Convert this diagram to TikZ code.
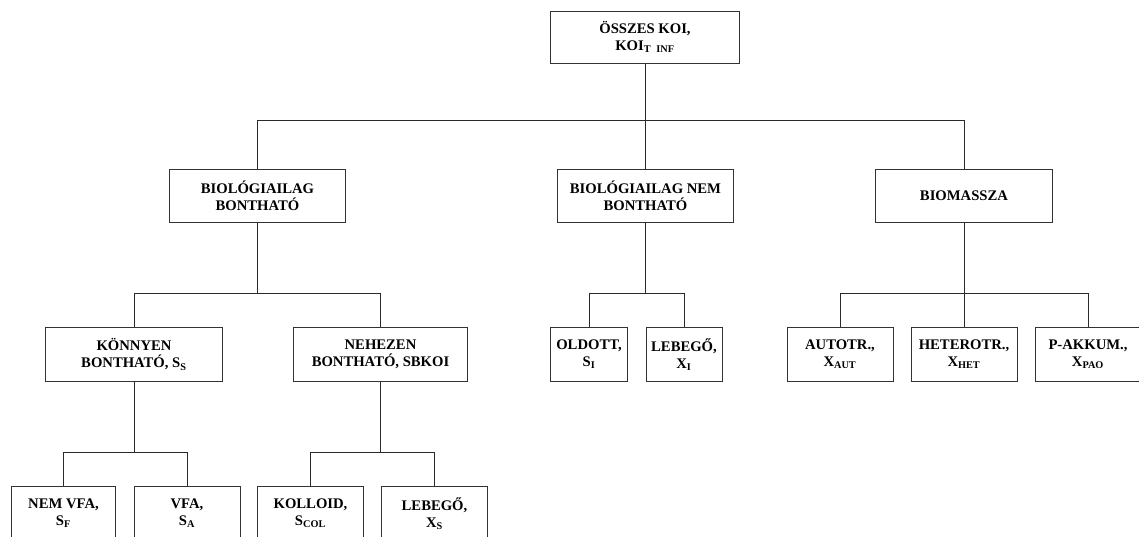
\documentclass[tikz,border=0pt]{standalone}
\usepackage{fontspec}
\setmainfont{Liberation Serif}
\usepackage{tikz}
\usetikzlibrary{positioning,calc}
\definecolor{cLine}{HTML}{2B2B2B}
\definecolor{cBox}{HTML}{333333}
\tikzset{
  koibox/.style ={draw=cBox, line width=0.75pt, fill=white, align=center,
                  font=\fontsize{11}{12.8}\selectfont\bfseries, inner sep=1pt,
                  minimum height=40pt},
  widebox/.style={koibox, minimum width=132.5pt},
  midbox/.style ={koibox, minimum width=79.5pt},
  thinbox/.style={koibox, minimum width=58pt},
  link/.style   ={draw=cLine, line width=0.75pt},
}

\begin{document}
\begin{tikzpicture}[x=0.75pt, y=-0.75pt]
        \clip (0,0) rectangle (1139,536);
        \useasboundingbox (0,0) rectangle (1139,536);
        % top level
        \node[koibox, minimum width=141.5pt, minimum height=39pt] (koi) at (645,37){ÖSSZES KOI,\\KOI\textsubscript{T\;\;INF}};
        % second level
        \node[widebox] (biob) at (257.5,196){BIOLÓGIAILAG\\BONTHATÓ};
        \node[widebox] (bionb) at (645.5,196){BIOLÓGIAILAG NEM\\BONTHATÓ};
        \node[widebox] (biom) at (964,196){BIOMASSZA};
        % third level
        \node[widebox] (konny) at (134,354.5){KÖNNYEN\\BONTHATÓ, S\textsubscript{S}};
        \node[widebox, minimum width=131pt] (nehez) at (380.5,354.5){NEHEZEN\\BONTHATÓ, SBKOI};
        \node[thinbox] (oldott) at (589,354.5){OLDOTT,\\S\textsubscript{I}};
        \node[thinbox, minimum width=57pt] (lebi) at (684,354.5){LEBEGŐ,\\X\textsubscript{I}};
        \node[midbox] (aut) at (840,354.5){AUTOTR.,\\X\textsubscript{AUT}};
        \node[midbox] (het) at (964,354.5){HETEROTR.,\\X\textsubscript{HET}};
        \node[midbox] (pao) at (1088,354.5){P-AKKUM.,\\X\textsubscript{PAO}};
        % fourth level
        \node[midbox, minimum width=78.5pt] (nvfa) at (63.5,513.5){NEM VFA,\\S\textsubscript{F}};
        \node[midbox] (vfa) at (187,513.5){VFA,\\S\textsubscript{A}};
        \node[midbox, minimum width=80pt] (koll) at (310.5,513.5){KOLLOID,\\S\textsubscript{COL}};
        \node[midbox, minimum width=80pt] (lebs) at (434.5,513.5){LEBEGŐ,\\X\textsubscript{S}};
        % junctions
        \coordinate (j0) at (645,120);
        \coordinate (j1) at (257.5,293);
        \coordinate (j2) at (645.5,293);
        \coordinate (j3) at (964,293);
        \coordinate (j4) at (134,452);
        \coordinate (j5) at (380.5,452);
        % connectors
        \draw[link] (koi.south) -- (j0);
        \draw[link] (j0) -| (biob.north); \draw[link] (j0) -| (bionb.north); \draw[link] (j0) -| (biom.north);
        \draw[link] (biob.south) -- (j1);
        \draw[link] (j1) -| (konny.north); \draw[link] (j1) -| (nehez.north);
        \draw[link] (bionb.south) -- (j2);
        \draw[link] (j2) -| (oldott.north); \draw[link] (j2) -| (lebi.north);
        \draw[link] (biom.south) -- (j3);
        \draw[link] (j3) -| (aut.north); \draw[link] (j3) -- (het.north); \draw[link] (j3) -| (pao.north);
        \draw[link] (konny.south) -- (j4);
        \draw[link] (j4) -| (nvfa.north); \draw[link] (j4) -| (vfa.north);
        \draw[link] (nehez.south) -- (j5);
        \draw[link] (j5) -| (koll.north); \draw[link] (j5) -| (lebs.north);
      \end{tikzpicture}
\end{document}
